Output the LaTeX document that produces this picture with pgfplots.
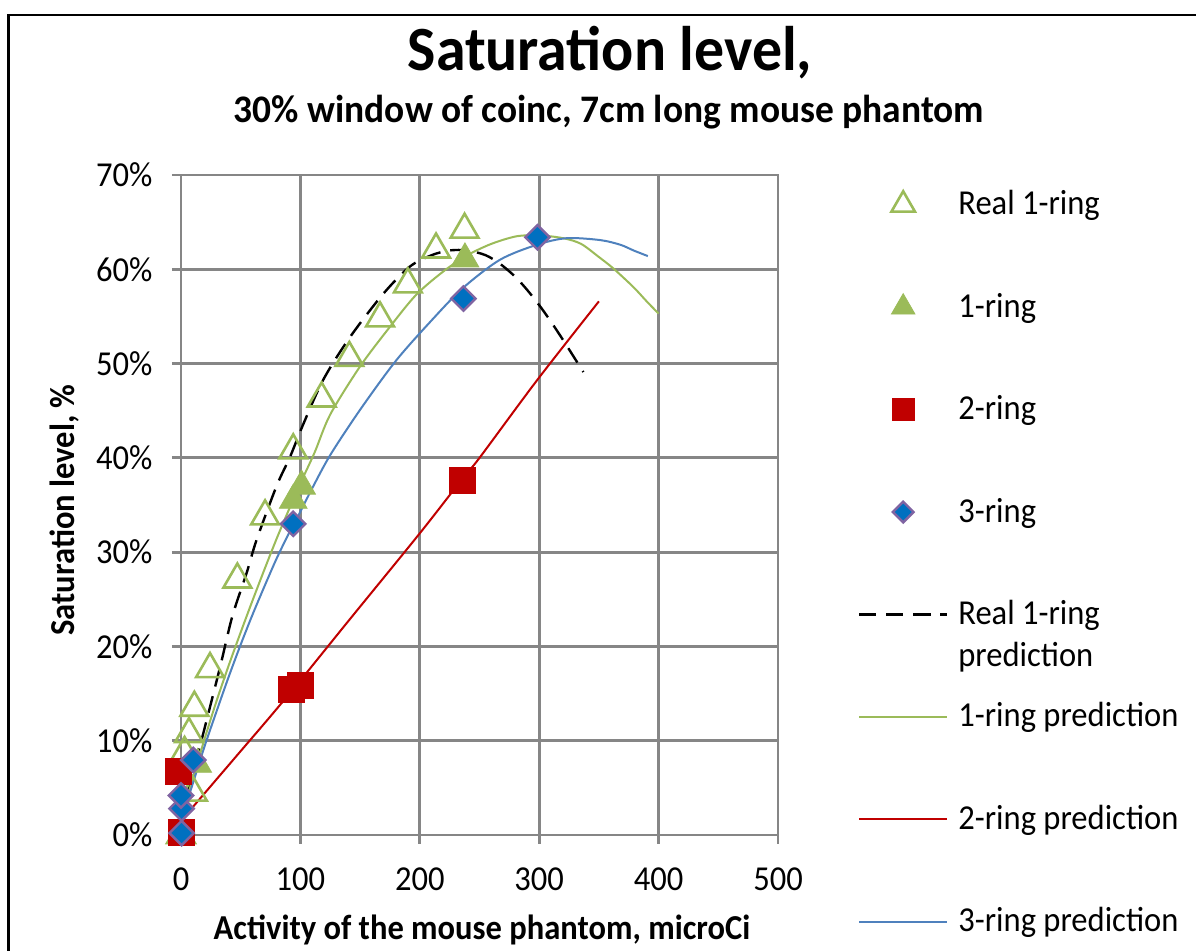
\documentclass[border=0pt]{standalone}
\usepackage{fontspec}
\setmainfont{Carlito}
\usepackage{pgfplots}
\pgfplotsset{compat=1.18}

\definecolor{xlgreen}{HTML}{9BBB59}
\definecolor{xlred}{HTML}{C00000}
\definecolor{xlblue}{HTML}{0070C0}
\definecolor{xlpurple}{HTML}{8064A2}
\definecolor{xlline}{HTML}{4F81BD}
\definecolor{gridgray}{HTML}{868686}

\pgfplotsset{
  mylegend/.style={legend image code/.code={
    \draw[yshift=5pt,mark repeat=2,mark phase=2,##1,every mark/.append style={scale=0.85}]
      plot coordinates {(0pt,0pt)(22pt,0pt)(44pt,0pt)};}},
}

\begin{document}
\begin{tikzpicture}
\path[use as bounding box] (0,0) rectangle (598pt,-475.5pt);
\draw[line width=1.3pt] (4.2pt,-480pt) -- (4.2pt,-7.6pt) -- (600pt,-7.6pt);

\node[anchor=base, font=\bfseries\fontsize{31.5}{32}\selectfont, xscale=0.95] at (305pt,-35.5pt) {Saturation level,};
\node[anchor=base, font=\bfseries\fontsize{19.5}{20}\selectfont, xscale=0.96] at (304.5pt,-61.5pt) {30\% window of coinc, 7cm long mouse phantom};
\node[anchor=base, font=\bfseries\fontsize{17.5}{18}\selectfont, xscale=0.93] at (241pt,-470pt) {Activity of the mouse phantom, microCi};
\node[rotate=90, font=\bfseries\fontsize{17.5}{18}\selectfont, xscale=0.93] at (32.5pt,-255pt) {Saturation level, \%};

\begin{axis}[
  at={(90.5pt,-417.5pt)}, anchor=south west,
  width=298.5pt, height=330pt, scale only axis,
  xmin=0, xmax=500, ymin=0, ymax=70,
  xtick={0,100,...,500}, ytick={0,10,...,70},
  grid=major, grid style={gridgray, line width=1.4pt},
  axis line style={gridgray, line width=1.4pt},
  tick style={gridgray, line width=1.4pt},
  tick align=outside, major tick length=4.5pt,
  tick pos=left,
  yticklabel={\pgfmathprintnumber{\tick}\%},
  /pgf/number format/assume math mode=true,
  ticklabel style={font=\fontsize{17.5}{18}\selectfont, xscale=0.93},
  yticklabel style={xshift=-7pt},
  xticklabel style={yshift=-8.5pt},
  clip=false,
  legend cell align=left,
  legend style={at={(rel axis cs:1.134,0.976)}, anchor=north west,
    draw=none, fill=none, inner sep=0pt, outer sep=0pt,
    row sep=0pt, column sep=5pt,
    font=\fontsize{17.5}{21}\selectfont,
    nodes={inner sep=0pt, text height=12pt, text depth=39.2pt, anchor=base west, xscale=0.93}},
]

% Real 1-ring (measured)
\addplot[mylegend, only marks, mark=triangle, mark size=8pt,
  mark options={draw=xlgreen, line width=1.3pt}]
  coordinates {(0,0)(3,8.7)(6.7,10.7)(10,4.5)(11.2,13.5)(24.3,17.6)(47.2,27.1)
  (70.4,33.8)(94,40.8)(117.8,46.3)(141,50.6)(166.7,54.8)(190,58.4)(213.6,62.1)(237.5,64.2)};
\addlegendentry{Real 1-ring}

\addplot[mylegend, only marks, mark=triangle*, mark size=8pt,
  mark options={draw=xlgreen, fill=xlgreen}]
  coordinates {(0,0)(14,7.5)(94,35.5)(101,37)(237.8,61.1)};
\addlegendentry{1-ring}

\addplot[mylegend, only marks, mark=square*, mark size=6.5pt,
  mark options={draw=xlred, fill=xlred}]
  coordinates {(0,0.3)(-2,6.7)(92.7,15.4)(99.7,15.9)(235.8,37.6)};
\addlegendentry{2-ring}

\addplot[mylegend, only marks, mark=square*, mark size=4.3pt,
  mark options={draw=xlpurple, fill=xlblue, line width=1.2pt, rotate=45}]
  coordinates {(0.5,0.2)(0.5,2.8)(0,4.2)(10.3,7.95)(94,33.0)(236.5,56.9)(298.5,63.4)};
\addlegendentry{3-ring}

% predictions
\addplot[mylegend, black, line width=1.2pt, dash pattern=on 8.5pt off 5pt, smooth, no markers]
  coordinates {(0,1.9)(8,5.6)(18.7,10.8)(32.7,17.8)(43,23.2)(55,27.8)(63.3,31.3)
  (80,37.0)(91.3,40.1)(102.5,43.6)(119.2,48.3)(141.5,52.8)(169.4,57.4)(191.8,60.3)
  (210,61.5)(225,62.0)(240,62.0)(255,61.5)(267,60.6)(280,59.2)(290,57.8)(300,56.2)
  (309,54.6)(320,52.5)(337,49.1)};
\addlegendentry{\parbox[t]{80pt}{\raggedright Real 1-ring\\prediction}}

\addplot[mylegend, xlgreen, line width=1pt, smooth, no markers]
  coordinates {(0,2.0)(10,6.0)(20,10.3)(30,14.3)(40,18.0)(50,21.5)(60,24.9)(70,28.2)
  (80,31.4)(90,34.4)(100,37.3)(112,40.6)(125,44.6)(150,49.7)(175,53.9)(197,57.3)
  (220,59.8)(240,61.5)(260,62.7)(281,63.5)(300,63.6)(320,63.3)(335,62.7)(350,61.3)
  (362,60.1)(379,58.1)(390,56.6)(400,55.3)};
\addlegendentry{1-ring prediction}

\addplot[mylegend, xlred, line width=1pt, smooth, no markers]
  coordinates {(0,1.5)(25,5.2)(50,8.9)(75,12.6)(100,16.4)(141.5,22.9)(200,32.0)
  (237,38.0)(250,40.0)(298,48.2)(350,56.6)};
\addlegendentry{2-ring prediction}

\addplot[mylegend, xlline, line width=1pt, smooth, no markers]
  coordinates {(0,1.5)(10,5.5)(20,9.5)(30,13.2)(40,16.8)(50,20.2)(60,23.4)(70,26.4)
  (80,29.3)(90,31.9)(100,34.3)(110,36.8)(125,40.3)(150,45.1)(180,50.3)(210,54.6)
  (236,58.0)(267,61.0)(298,62.6)(323,63.3)(351,63.1)(368,62.6)(379,62.0)(391,61.4)};
\addlegendentry{3-ring prediction}

\end{axis}
\end{tikzpicture}
\end{document}
